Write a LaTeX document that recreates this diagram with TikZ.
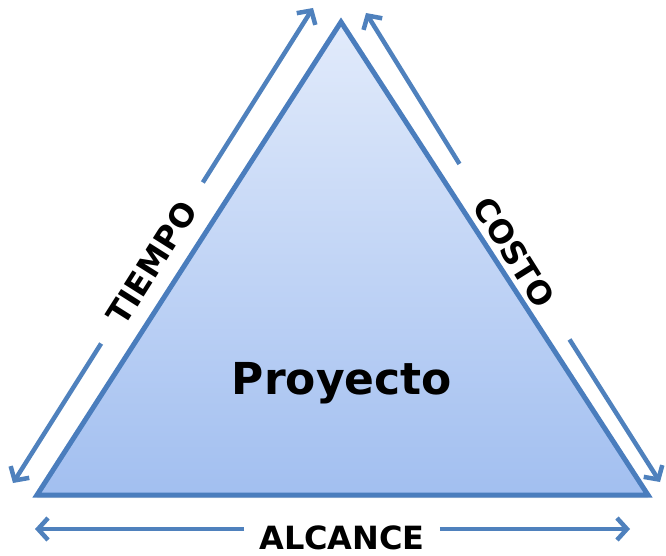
\documentclass[tikz,border=0pt]{standalone}
\usepackage{fontspec}
\setsansfont{DejaVu Sans}
\usepackage{xcolor}
\usepackage{tikz}
\usetikzlibrary{arrows.meta, shadows}
\definecolor{edgeblue}{HTML}{4A7DBD}
\definecolor{arrowblue}{HTML}{4F81BD}
\definecolor{filltop}{HTML}{E2EBFB}
\definecolor{fillbottom}{HTML}{A2BFF0}
\tikzstyle{triangle} = [line width=5pt, draw=edgeblue, line join=miter, top color=filltop, bottom color=fillbottom, drop shadow={opacity=0.2, shadow xshift=0pt, shadow yshift=-3pt}]
\tikzstyle{arrow} = [line width=4.5pt, draw=arrowblue, -{Straight Barb[length=10pt,width=22pt]}]
\tikzstyle{sidelabel} = [font=\sffamily\bfseries\fontsize{32}{38}\selectfont, text=black, inner ysep=0pt]
\tikzstyle{title} = [font=\sffamily\bfseries\fontsize{44}{52}\selectfont, text=black]

\begin{document}
\begin{tikzpicture}[x=1pt, y=-1pt]
		\useasboundingbox (0,0) rectangle (666,556);
		
		\coordinate (Top) at (341,22);
		\coordinate (Left) at (37,495);
		\coordinate (Right) at (648,495);
		\filldraw [triangle] (Left) -- (Top) -- (Right) -- cycle;
		\node (Proyecto) [title, anchor=base] at (342,394) {Proyecto};
		
		\coordinate (TiempoLow) at (13,483);
		\coordinate (TiempoHigh) at (313,8);
		\node (Tiempo) [sidelabel, rotate=57.7, inner xsep=26pt] at (152,263) {TIEMPO};
		
		\coordinate (CostoHigh) at (366,13);
		\coordinate (CostoLow) at (660,482);
		\node (Costo) [sidelabel, rotate=-57.9, inner xsep=42pt] at (514,252) {COSTO};
		
		\coordinate (AlcanceLeft) at (35,529);
		\coordinate (AlcanceRight) at (630,529);
		\node (Alcance) [sidelabel, anchor=base, inner xsep=15pt] at (342,549) {ALCANCE};
		
		\draw [arrow] (Tiempo) -- (TiempoHigh);
		\draw [arrow] (Tiempo) -- (TiempoLow);
		\draw [arrow] (Costo) -- (CostoHigh);
		\draw [arrow] (Costo) -- (CostoLow);
		\draw [arrow] (AlcanceLeft -| Alcance.west) -- (AlcanceLeft);
		\draw [arrow] (AlcanceRight -| Alcance.east) -- (AlcanceRight);
	\end{tikzpicture}
\end{document}
